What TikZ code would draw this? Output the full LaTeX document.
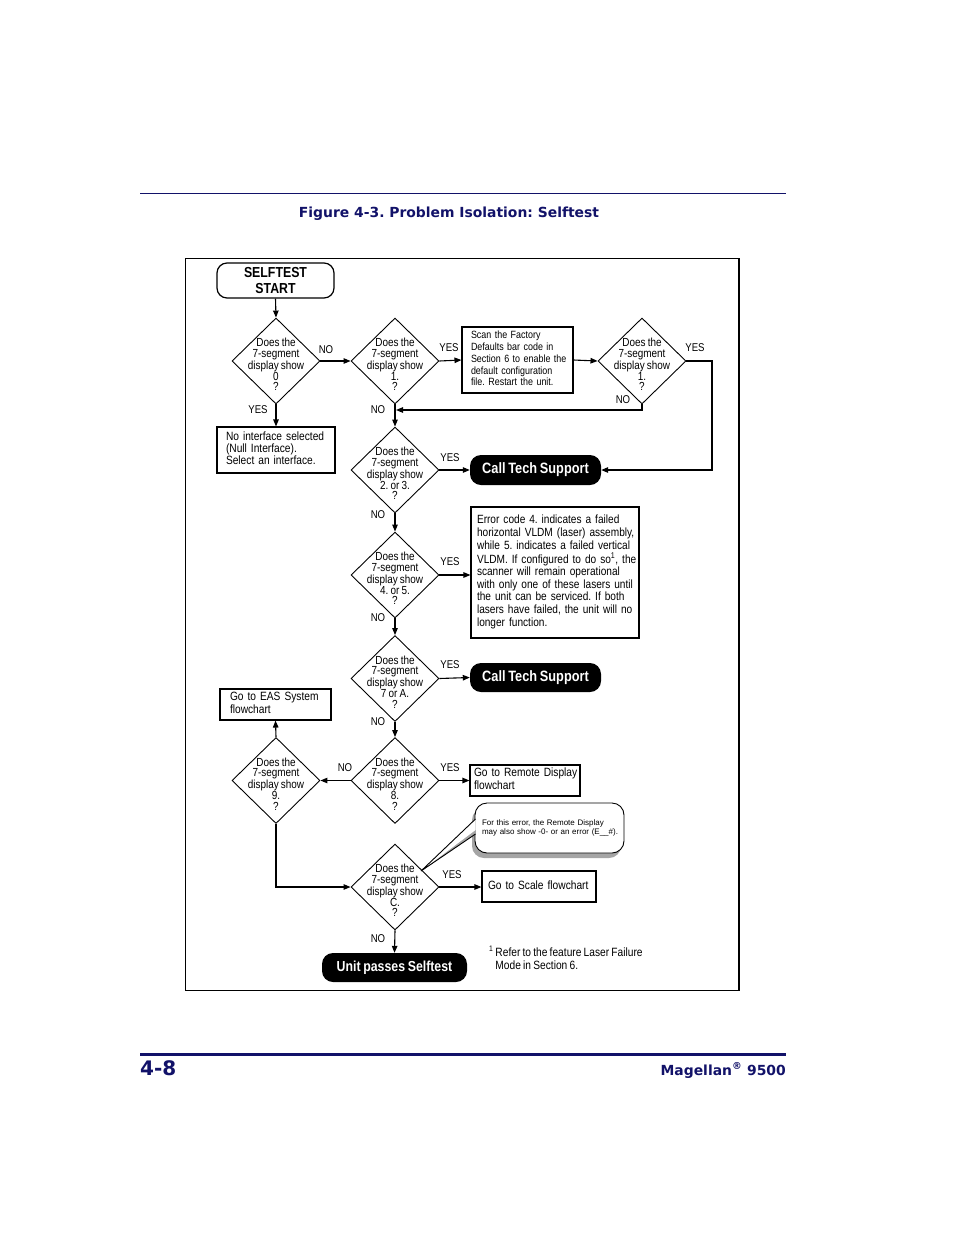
\documentclass[tikz,border=0pt]{standalone}
\usepackage{fontspec}
\setmainfont{Liberation Sans}
\newfontfamily\nar[FakeStretch=0.85,WordSpace=0.78]{Liberation Sans}
\newfontfamily\verd{DejaVu Sans}
\usetikzlibrary{shapes.geometric,arrows.meta,calc}
\definecolor{navy}{RGB}{18,18,105}
\definecolor{shgray}{RGB}{165,165,165}
\newcommand\Lines[1]{\begin{tabular}{@{}l@{}}#1\end{tabular}}
\frenchspacing
\begin{document}
\begin{tikzpicture}[x=1pt,y=-1pt,
  dia/.style={draw, diamond, minimum width=88pt, minimum height=86pt, inner sep=0pt, line width=0.9pt},
  dtext/.style={font=\nar\fontsize{11.7}{10.7}\selectfont, align=center, inner sep=0pt, yshift=-3.5pt},
  yn/.style={font=\nar\fontsize{11.3}{12}\selectfont, inner sep=0pt},
  arr/.style={line width=1.1pt, -{Triangle[length=7pt,width=5.5pt]}},
  tbox/.style={draw, line width=1.1pt, rectangle, inner ysep=0pt, align=left},
  pill/.style={fill=black, rounded corners=11pt, text=white, font=\nar\bfseries\fontsize{15}{16}\selectfont, inner sep=0pt},
]
\useasboundingbox[fill=white] (0,0) rectangle (954,1235);

% header / footer
\draw[navy, line width=0.9pt] (140,193) -- (786,193);
\node[font=\verd\bfseries\fontsize{13.9}{15}\selectfont, text=navy] (title) at (449,214) {Figure 4-3. Problem Isolation: Selftest};
\draw[navy, line width=3pt] (140,1054) -- (786,1054);
\node[anchor=base west, font=\verd\bfseries\fontsize{20}{22}\selectfont, text=navy, inner sep=0pt] (pg) at (140,1075) {4-8};
\node[anchor=base east, font=\verd\bfseries\fontsize{13.9}{15}\selectfont, text=navy, inner sep=0pt] (mag) at (786,1075) {Magellan\textsuperscript{®} 9500};

% frame
\draw[line width=0.8pt] (185,258) rectangle (739,990);
\draw[line width=1.6pt] (739,258) -- (739,990);

% start
\node[draw, line width=1.2pt, rounded corners=10pt, minimum width=117pt, minimum height=35pt, inner sep=0pt, align=center, font=\nar\bfseries\fontsize{14.5}{16}\selectfont] (start) at (275.5,280.5) {SELFTEST\\START};

% diamonds
\node[dia, label={[dtext,name=t0]center:{Does the\\7-segment\\display show\\0\\?}}] (d0) at (276,361) {};
\node[dia, label={[dtext,name=t1]center:{Does the\\7-segment\\display show\\1.\\?}}] (d1) at (395,361) {};
\node[dia, label={[dtext,name=t2]center:{Does the\\7-segment\\display show\\1.\\?}}] (d2) at (642,361) {};
\node[dia, label={[dtext,name=t3]center:{Does the\\7-segment\\display show\\2. or 3.\\?}}] (d3) at (395,470) {};
\node[dia, label={[dtext,name=t4]center:{Does the\\7-segment\\display show\\4. or 5.\\?}}] (d4) at (395,575) {};
\node[dia, label={[dtext,name=t5]center:{Does the\\7-segment\\display show\\7 or A.\\?}}] (d5) at (395,678.5) {};
\node[dia, label={[dtext,name=t6]center:{Does the\\7-segment\\display show\\8.\\?}}] (d6) at (395,780.5) {};
\node[dia, label={[dtext,name=t7]center:{Does the\\7-segment\\display show\\9.\\?}}] (d7) at (276,780.5) {};
\node[dia, label={[dtext,name=t8]center:{Does the\\7-segment\\display show\\C.\\?}}] (d8) at (395,887) {};

% boxes
\node[tbox, text width=100pt, inner xsep=9pt, minimum height=46pt, font=\nar\fontsize{12}{12}\selectfont] (noint) at (276,450) {\Lines{No interface selected\\(Null Interface).\\Select an interface.}};
\node[tbox, text width=93pt, inner xsep=9pt, minimum height=66pt, font=\nar\fontsize{10.5}{11.7}\selectfont] (fact) at (517.5,360) {\Lines{Scan the Factory\\Defaults bar code in\\Section 6 to enable the\\default configuration\\file. Restart the unit.}};
\node[tbox, text width=156pt, inner xsep=6pt, minimum height=131pt, font=\nar\fontsize{11.9}{12.6}\selectfont] (err) at (555,572.5) {\Lines{Error code 4. indicates a failed\\horizontal VLDM (laser) assembly,\\while 5. indicates a failed vertical\\VLDM. If configured to do so\textsuperscript{1}, the\\scanner will remain operational\\with only one of these lasers until\\the unit can be serviced. If both\\lasers have failed, the unit will no\\longer function.}};
\node[tbox, text width=91pt, inner xsep=10pt, minimum height=31pt, font=\nar\fontsize{12}{13}\selectfont] (eas) at (275.5,704.5) {\Lines{Go to EAS System\\flowchart}};
\node[tbox, text width=102pt, inner xsep=4pt, minimum height=31pt, font=\nar\fontsize{12}{13}\selectfont] (remote) at (525,780.5) {\Lines{Go to Remote Display\\flowchart}};
\node[tbox, text width=102pt, inner xsep=6pt, minimum height=31pt, font=\nar\fontsize{12}{13}\selectfont] (scale) at (539,886.5) {\Lines{Go to Scale flowchart}};

% pills
\node[pill, minimum width=131pt, minimum height=30pt] (cts1) at (535.5,470) {Call Tech Support};
\node[pill, minimum width=131pt, minimum height=29pt] (cts2) at (535.5,677.5) {Call Tech Support};
\node[pill, minimum width=145pt, minimum height=29pt, font=\nar\bfseries\fontsize{14.5}{16}\selectfont] (unit) at (394.5,967.5) {Unit passes Selftest};

% callout
\fill[shgray, rounded corners=12pt] (472,808) rectangle (621,858);
\coordinate (tip) at (421,871);
\coordinate (pa) at (475.5,819);
\coordinate (pb) at (475.5,834);
\node[draw, line width=0.9pt, fill=white, rounded corners=12pt, minimum width=149pt, minimum height=50pt, text width=135pt, inner xsep=7pt, inner ysep=0pt, align=left, font=\fontsize{8}{9.5}\selectfont] (note) at (549.5,828) {\Lines{For this error, the Remote Display\\may also show -0- or an error (E\_\_\#).}};
\fill[shgray] (pa) -- (tip) -- (pb) -- cycle;
\fill[white] (pa) -- (tip) -- ($(pb)+(0,-4)$) -- cycle;
\draw[line width=0.9pt] (pa) -- (tip) -- (pb);

% connectors
\draw[arr] (start.south) -- (d0.north);
\draw[arr] (d0.south) -- (noint.north);
\draw[arr] (d0.east) -- (d1.west);
\draw[arr] (d1.east) -- (fact.west);
\draw[arr] (fact.east) -- (d2.west);
\coordinate (c1) at (712,470);
\draw[arr] (d2.east) -| (c1) -- (cts1.east);
\coordinate (j1) at (396,410);
\draw[arr] (d2.south) |- (j1);
\draw[arr] (d1.south) -- (d3.north);
\draw[arr] (d3.east) -- (cts1.west);
\draw[arr] (d3.south) -- (d4.north);
\draw[arr] (d4.east) -- (d4.east -| err.west);
\draw[arr] (d4.south) -- (d5.north);
\draw[arr] (d5.east) -- (cts2.west);
\draw[arr] (d5.south) -- (d6.north);
\draw[arr] (d6.east) -- (d6.east -| remote.west);
\draw[arr] (d6.west) -- (d7.east);
\draw[arr] (d7.north) -- (eas.south);
\draw[arr] (d7.south) |- (d8.west);
\draw[arr] (d8.east) -- (d8.east -| scale.west);
\draw[arr] (d8.south) -- (unit.north);

% yes / no labels
\node[yn] (y0) at (258,410) {YES};
\node[yn] (n0) at (326,350) {NO};
\node[yn] (y1) at (449,348) {YES};
\node[yn] (n1) at (378,410) {NO};
\node[yn] (y2) at (695,348) {YES};
\node[yn] (n2) at (623,400) {NO};
\node[yn] (y3) at (450,458) {YES};
\node[yn] (n3) at (378,515) {NO};
\node[yn] (y4) at (450,562) {YES};
\node[yn] (n4) at (378,618) {NO};
\node[yn] (y5) at (450,665) {YES};
\node[yn] (n5) at (378,722) {NO};
\node[yn] (y6) at (450,768) {YES};
\node[yn] (n6) at (345,768) {NO};
\node[yn] (y8) at (452,875) {YES};
\node[yn] (n8) at (378,939) {NO};

% footnote
\node[anchor=base west, inner sep=0pt, font=\nar\fontsize{12}{13}\selectfont] (fn) at (489,956) {\textsuperscript{1}\,\begin{tabular}[t]{@{}l@{}}Refer to the feature Laser Failure\\Mode in Section 6.\end{tabular}};
\end{tikzpicture}
\end{document}
